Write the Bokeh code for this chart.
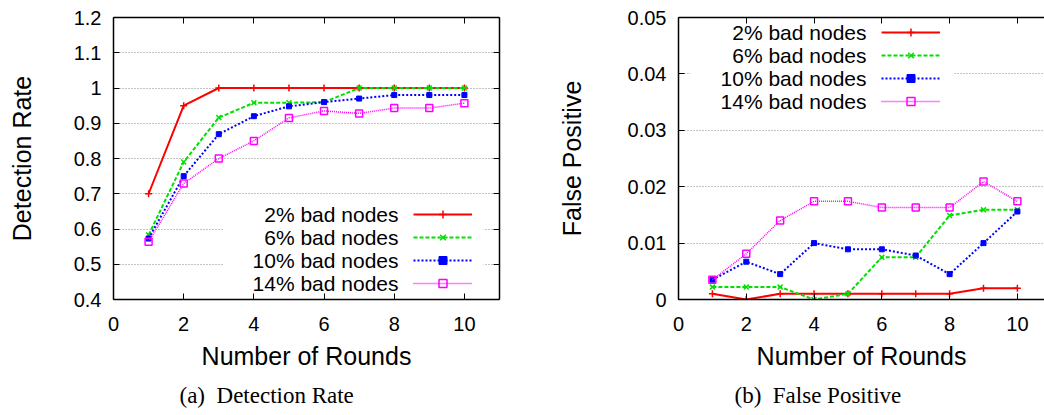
from bokeh.plotting import figure
from bokeh.models import (Legend, LegendItem, Label, BoxAnnotation, LinearAxis,
                          FixedTicker, Range1d, Title, PrintfTickFormatter)
from bokeh.layouts import row
from bokeh.embed import file_html
from bokeh.resources import INLINE

# ---------------- data ----------------
rounds = [1, 2, 3, 4, 5, 6, 7, 8, 9, 10]
series_labels = ["2% bad nodes", "6% bad nodes", "10% bad nodes", "14% bad nodes"]

dr_2 = [0.70, 0.95, 1.0, 1.0, 1.0, 1.0, 1.0, 1.0, 1.0, 1.0]
dr_6 = [0.583, 0.79, 0.916, 0.958, 0.958, 0.96, 1.0, 1.0, 1.0, 1.0]
dr_10 = [0.573, 0.75, 0.869, 0.92, 0.948, 0.96, 0.97, 0.98, 0.98, 0.98]
dr_14 = [0.564, 0.729, 0.80, 0.85, 0.915, 0.935, 0.928, 0.943, 0.943, 0.957]

fp_2 = [0.001, 0.0, 0.001, 0.001, 0.001, 0.001, 0.001, 0.001, 0.002, 0.002]
fp_6 = [0.0022, 0.0022, 0.0022, 0.0, 0.001, 0.0075, 0.0075, 0.0149, 0.0159, 0.0159]
fp_10 = [0.0035, 0.0067, 0.0045, 0.0100, 0.0089, 0.0089, 0.0078, 0.0045, 0.0100, 0.0156]
fp_14 = [0.0035, 0.0081, 0.0140, 0.0174, 0.0174, 0.0163, 0.0163, 0.0163, 0.0209, 0.0174]

x_ticks = [0, 2, 4, 6, 8, 10]
x_tick_labels = ["0", "2", "4", "6", "8", "10"]
dr_ticks = [0.4, 0.5, 0.6, 0.7, 0.8, 0.9, 1.0, 1.1, 1.2]
dr_tick_labels = ["0.4", "0.5", "0.6", "0.7", "0.8", "0.9", "1", "1.1", "1.2"]
fp_ticks = [0.0, 0.01, 0.02, 0.03, 0.04, 0.05]
fp_tick_labels = ["0", "0.01", "0.02", "0.03", "0.04", "0.05"]

# ---------------- styles ----------------
SANS = "Liberation Sans"
SERIF = "Liberation Serif"
colors = ["#ff0000", "#00e000", "#0000ff", "#ff00ff"]
dashes = ["solid", "4 2", "2 2", "1 1"]
widths = [2, 2, 2, 1.5]
markers = ["cross", "x", "square", "square"]
fills = ["#ff0000", "#00e000", "#0000ff", None]
msizes = [7, 7, 5, 7]
mwidths = [1.5, 1.5, 1, 1.5]

HEIGHT = 415


def make_panel(series, ticks, tick_labels, y_range, x_end, y_label, caption,
               width, border_left, border_right, cap_offset, ylab_standoff,
               legend_cfg, right_axis):
    p = figure(width=width, height=HEIGHT, output_backend="svg", toolbar_location=None,
               x_range=Range1d(0, x_end), y_range=Range1d(*y_range),
               title_location=None, min_border_left=border_left,
               min_border_right=border_right, min_border_top=17,
               min_border_bottom=HEIGHT - 300)
    p.outline_line_color = None
    p.background_fill_color = "white"

    # axes
    for ax in (p.xaxis[0], p.yaxis[0]):
        ax.axis_line_width = 1.5
        ax.axis_line_color = "black"
        ax.major_tick_in = 6
        ax.major_tick_out = 0
        ax.minor_tick_line_color = None
        ax.major_label_text_font = SANS
        ax.major_label_text_font_size = "20px"
        ax.major_label_text_color = "black"
        ax.axis_label_text_font = SANS
        ax.axis_label_text_font_size = "25px"
        ax.axis_label_text_font_style = "normal"
        ax.axis_label_text_color = "black"
        ax.major_label_standoff = 12

    p.xaxis[0].ticker = FixedTicker(ticks=x_ticks)
    p.xaxis[0].major_label_overrides = dict(zip(x_ticks, x_tick_labels))
    p.xaxis[0].axis_label = "Number of Rounds"
    p.xaxis[0].axis_label_standoff = 8
    p.xaxis[0].major_label_standoff = 17

    p.yaxis[0].ticker = FixedTicker(ticks=ticks)
    p.yaxis[0].formatter = PrintfTickFormatter(format="%g")
    p.yaxis[0].major_label_overrides = dict(zip(ticks, tick_labels))
    p.yaxis[0].axis_label = y_label
    p.yaxis[0].axis_label_standoff = ylab_standoff

    # mirrored frame sides with inward ticks (no labels drawn)
    top = LinearAxis(ticker=FixedTicker(ticks=x_ticks), major_label_text_font_size="1px",
                     major_label_text_color=None, major_tick_in=6, major_tick_out=0,
                     minor_tick_line_color=None, axis_line_width=1.5,
                     major_label_standoff=0)
    p.add_layout(top, "above")
    if right_axis:
        rax = LinearAxis(ticker=FixedTicker(ticks=ticks), major_label_text_font_size="1px",
                         major_label_text_color=None, major_tick_in=6, major_tick_out=0,
                         minor_tick_line_color=None, axis_line_width=1.5,
                         major_label_standoff=0)
        p.add_layout(rax, "right")

    # grid
    p.xgrid.visible = False
    p.ygrid.ticker = FixedTicker(ticks=ticks)
    p.ygrid.grid_line_color = "#888888"
    p.ygrid.grid_line_dash = "1 2"
    p.ygrid.grid_line_width = 1

    # legend background box (covers grid)
    lx, ly, tx, box = legend_cfg
    p.add_layout(BoxAnnotation(left=box[0], right=box[1], bottom=box[2], top=box[3],
                               left_units="screen", right_units="screen",
                               bottom_units="screen", top_units="screen",
                               fill_color="white", fill_alpha=1.0, line_color=None,
                               level="underlay"))

    items = []
    for i, ys in enumerate(series):
        r = p.line(rounds, ys, line_color=colors[i], line_width=widths[i],
                   line_dash=dashes[i])
        s = p.scatter(rounds, ys, marker=markers[i], size=msizes[i],
                      line_color=colors[i], fill_color=fills[i], line_width=mwidths[i])
        items.append(LegendItem(label="", renderers=[r, s]))

    leg = Legend(items=items, location=(lx, ly), glyph_width=59, glyph_height=20,
                 label_width=0, label_height=20, label_standoff=0, padding=0,
                 spacing=3, margin=0, border_line_color=None, background_fill_alpha=0,
                 label_text_font_size="1px", label_text_color=None)
    p.add_layout(leg, "center")

    # legend texts (right aligned, in front of the samples)
    for i, lbl in enumerate(series_labels):
        p.add_layout(Label(x=tx, y=ly + 89 - 10 - i * 23, x_units="screen", y_units="screen",
                           text=lbl, text_align="right", text_baseline="middle",
                           text_font=SANS, text_font_size="21px", text_color="black"))

    # sub-figure caption below the axis title
    p.add_layout(Title(text=caption, align="left", offset=cap_offset, text_font=SERIF,
                       text_font_size="23px", text_font_style="normal",
                       text_color="black", standoff=16), "below")
    return p


p1 = make_panel([dr_2, dr_6, dr_10, dr_14], dr_ticks, dr_tick_labels, (0.4, 1.2), 11,
                "Detection Rate", "(a)\u00a0\u00a0Detection Rate",
                543, 113, 44, 66, 35, (300, 6, 285, (110, 370, 0, 98)), True)
p2 = make_panel([fp_2, fp_6, fp_10, fp_14], fp_ticks, fp_tick_labels, (0.0, 0.05), 10.8,
                "False Positive", "(b)\u00a0\u00a0False Positive",
                501, 135, 0, 56, 39, (203, 188, 188, (12, 275, 187, 283)), False)

layout = row(p1, p2)
open("out.html", "w").write(file_html(layout, INLINE))
